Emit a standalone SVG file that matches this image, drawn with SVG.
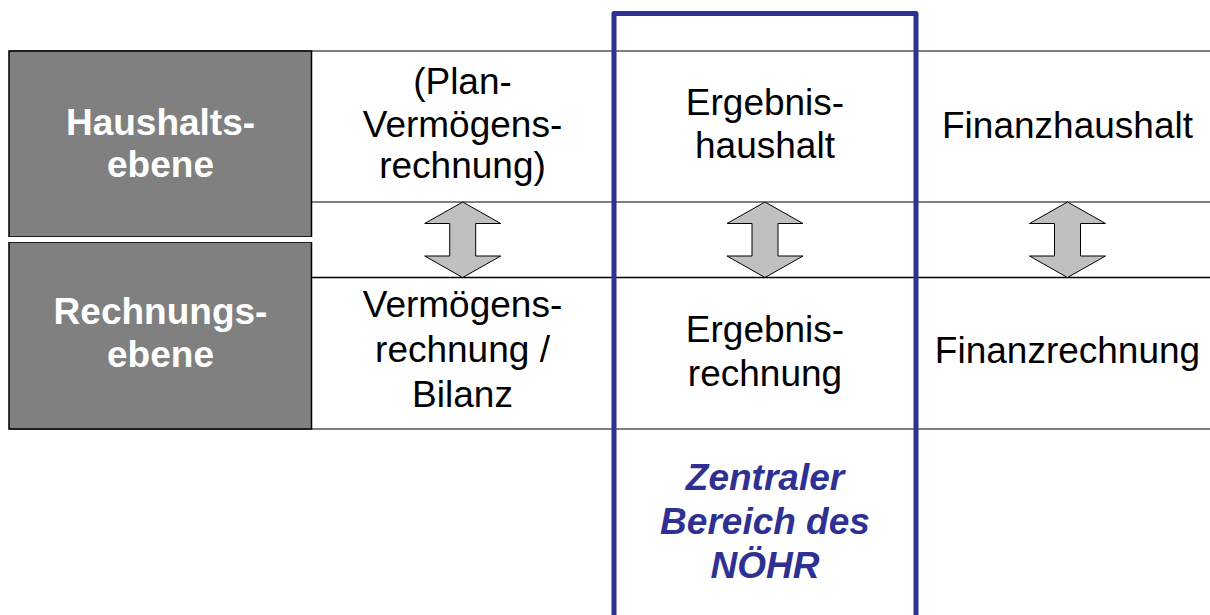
<svg xmlns="http://www.w3.org/2000/svg" width="1210" height="615" viewBox="0 0 1210 615">
<style>
.t{font-family:"Liberation Sans",Arial,sans-serif;font-size:37px;fill:#000;text-anchor:middle}
.lb{font-family:"Liberation Sans",Arial,sans-serif;font-size:37px;font-weight:bold;fill:#fff;text-anchor:middle}
.bl{font-family:"Liberation Sans",Arial,sans-serif;font-size:37px;font-weight:bold;font-style:italic;fill:#2E3192;text-anchor:middle}
.arr{fill:#C0C0C0;stroke:#000;stroke-width:1}
</style>
<defs>
<path id="dbl" d="M0,0 L38,21.5 L13,21.5 L13,54 L38,54 L0,75.5 L-38,54 L-13,54 L-13,21.5 L-38,21.5 Z" class="arr"/>
</defs>
<rect width="1210" height="615" fill="#fff"/>
<g id="grid">
<line x1="9" y1="51" x2="1210" y2="51" stroke="#808080" stroke-width="2"/>
<line x1="311" y1="202" x2="1210" y2="202" stroke="#808080" stroke-width="2"/>
<line x1="311" y1="277.5" x2="1210" y2="277.5" stroke="#000" stroke-width="1.5"/>
<line x1="9" y1="429" x2="1210" y2="429" stroke="#808080" stroke-width="2"/>
</g>
<g id="haushaltsebene">
<rect x="9" y="51" width="302.5" height="186" fill="#808080" stroke="#000" stroke-width="1.5"/>
<text class="lb" x="160.5" y="135">Haushalts-</text>
<text class="lb" x="160.5" y="177">ebene</text>
</g>
<g id="rechnungsebene">
<rect x="9" y="242" width="302.5" height="187" fill="#808080" stroke="#000" stroke-width="1.5"/>
<text class="lb" x="160.5" y="324">Rechnungs-</text>
<text class="lb" x="160.5" y="367">ebene</text>
</g>
<line x1="0" y1="239.5" x2="313" y2="239.5" stroke="#fff" stroke-width="5"/>
<g id="plan-vermoegensrechnung">
<text class="t" x="462.5" y="94">(Plan-</text>
<text class="t" x="462.5" y="137">Vermögens-</text>
<text class="t" x="462.5" y="178">rechnung)</text>
</g>
<g id="ergebnishaushalt">
<text class="t" x="765" y="115">Ergebnis-</text>
<text class="t" x="765" y="158">haushalt</text>
</g>
<g id="finanzhaushalt">
<text class="t" x="1067.5" y="138">Finanzhaushalt</text>
</g>
<g id="vermoegensrechnung">
<text class="t" x="462.5" y="317">Vermögens-</text>
<text class="t" x="462.5" y="362">rechnung /</text>
<text class="t" x="462.5" y="407">Bilanz</text>
</g>
<g id="ergebnisrechnung">
<text class="t" x="765" y="342">Ergebnis-</text>
<text class="t" x="765" y="386">rechnung</text>
</g>
<g id="finanzrechnung">
<text class="t" x="1067.5" y="363">Finanzrechnung</text>
</g>
<g id="connectors">
<use href="#dbl" x="462.7" y="202"/>
<use href="#dbl" x="765" y="202"/>
<use href="#dbl" x="1067.5" y="202"/>
</g>
<g id="zentraler-bereich">
<path d="M614,625 V13.5 H916 V625" fill="none" stroke="#2E3192" stroke-width="5" stroke-linejoin="round"/>
<text class="bl" x="765" y="490">Zentraler</text>
<text class="bl" x="765" y="534">Bereich des</text>
<text class="bl" x="765" y="578">NÖHR</text>
</g>
</svg>
